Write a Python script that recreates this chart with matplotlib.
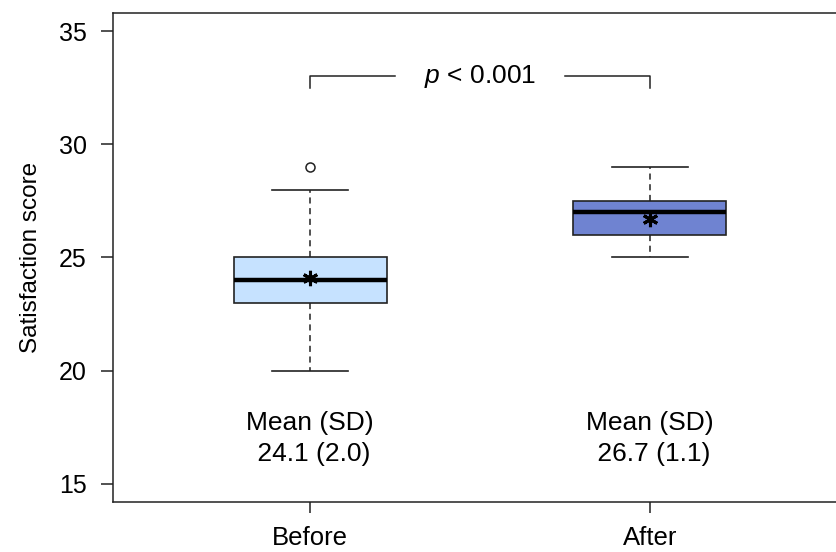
import matplotlib
matplotlib.use("Agg")
import matplotlib.pyplot as plt

# ---- data ----
groups = ["Before", "After"]
q1 = [23.0, 26.0]
medians = [24.0, 27.0]
q3 = [25.0, 27.5]
whisker_low = [20.0, 25.0]
whisker_high = [28.0, 29.0]
outliers = [[29.0], []]
means = [24.1, 26.7]
sds = [2.0, 1.1]
box_colors = ["#C6E2FF", "#6F83D1"]
yticks = [15, 20, 25, 30, 35]
p_label = "$p$ < 0.001"
bracket_y = 33.0
bracket_drop = 0.5
stats_text_y = 17.0

plt.rcParams["font.family"] = ["Liberation Sans", "DejaVu Sans"]
plt.rcParams["mathtext.fontset"] = "custom"
plt.rcParams["mathtext.it"] = "Liberation Sans:italic"
plt.rcParams["mathtext.rm"] = "Liberation Sans"

W, H = 836, 552
fig = plt.figure(figsize=(W / 100, H / 100), dpi=100)
ax = fig.add_axes([113 / W, 1 - 502 / H, (847 - 113) / W, (502 - 13) / H])

positions = list(range(1, len(groups) + 1))
stats = []
for i in range(len(groups)):
    stats.append(dict(med=medians[i], q1=q1[i], q3=q3[i],
                      whislo=whisker_low[i], whishi=whisker_high[i],
                      fliers=outliers[i], label=groups[i]))

edge = "#222222"
bp = ax.bxp(stats, positions=positions, widths=0.45, capwidths=0.226,
            patch_artist=True, showfliers=True,
            boxprops=dict(edgecolor=edge, linewidth=1.2),
            medianprops=dict(color="black", linewidth=3.2, solid_capstyle="butt"),
            whiskerprops=dict(color=edge, linewidth=1.1, linestyle=(0, (4, 3))),
            capprops=dict(color=edge, linewidth=1.2),
            flierprops=dict(marker="o", markerfacecolor="none",
                            markeredgecolor=edge, markersize=6.5, markeredgewidth=1.1))
for patch, c in zip(bp["boxes"], box_colors):
    patch.set_facecolor(c)

ax.plot(positions, means, linestyle="none", marker=(6, 2, 0),
        markersize=11, markeredgewidth=2.2, color="black", zorder=5)

# significance bracket
x1, x2 = positions[0], positions[1]
xm = (x1 + x2) / 2
gap = 0.25
kw = dict(color=edge, linewidth=1.1)
ax.plot([x1, x1, x1 + gap], [bracket_y - bracket_drop, bracket_y, bracket_y], **kw)
ax.plot([x2 - gap, x2, x2], [bracket_y, bracket_y, bracket_y - bracket_drop], **kw)
ax.text(xm, bracket_y, p_label, ha="center", va="center", fontsize=19)

for x, m, s in zip(positions, means, sds):
    ax.text(x, stats_text_y, "Mean (SD)\n %.1f (%.1f)" % (m, s),
            ha="center", va="center", fontsize=19, linespacing=1.4)

ax.set_xlim(0.42, 2.58)
ax.set_ylim(14.2, 35.8)
ax.set_yticks(yticks)
ax.set_xticks(positions)
ax.set_xticklabels(groups)
ax.set_ylabel("Satisfaction score", fontsize=17.5, labelpad=12)
ax.tick_params(axis="y", labelsize=18, length=9, width=1.1, color=edge, pad=10)
ax.tick_params(axis="x", labelsize=18.5, length=8, width=1.1, color=edge, pad=9)
for sp in ax.spines.values():
    sp.set_color(edge)
    sp.set_linewidth(1.1)

fig.savefig("out.png", dpi=100)
